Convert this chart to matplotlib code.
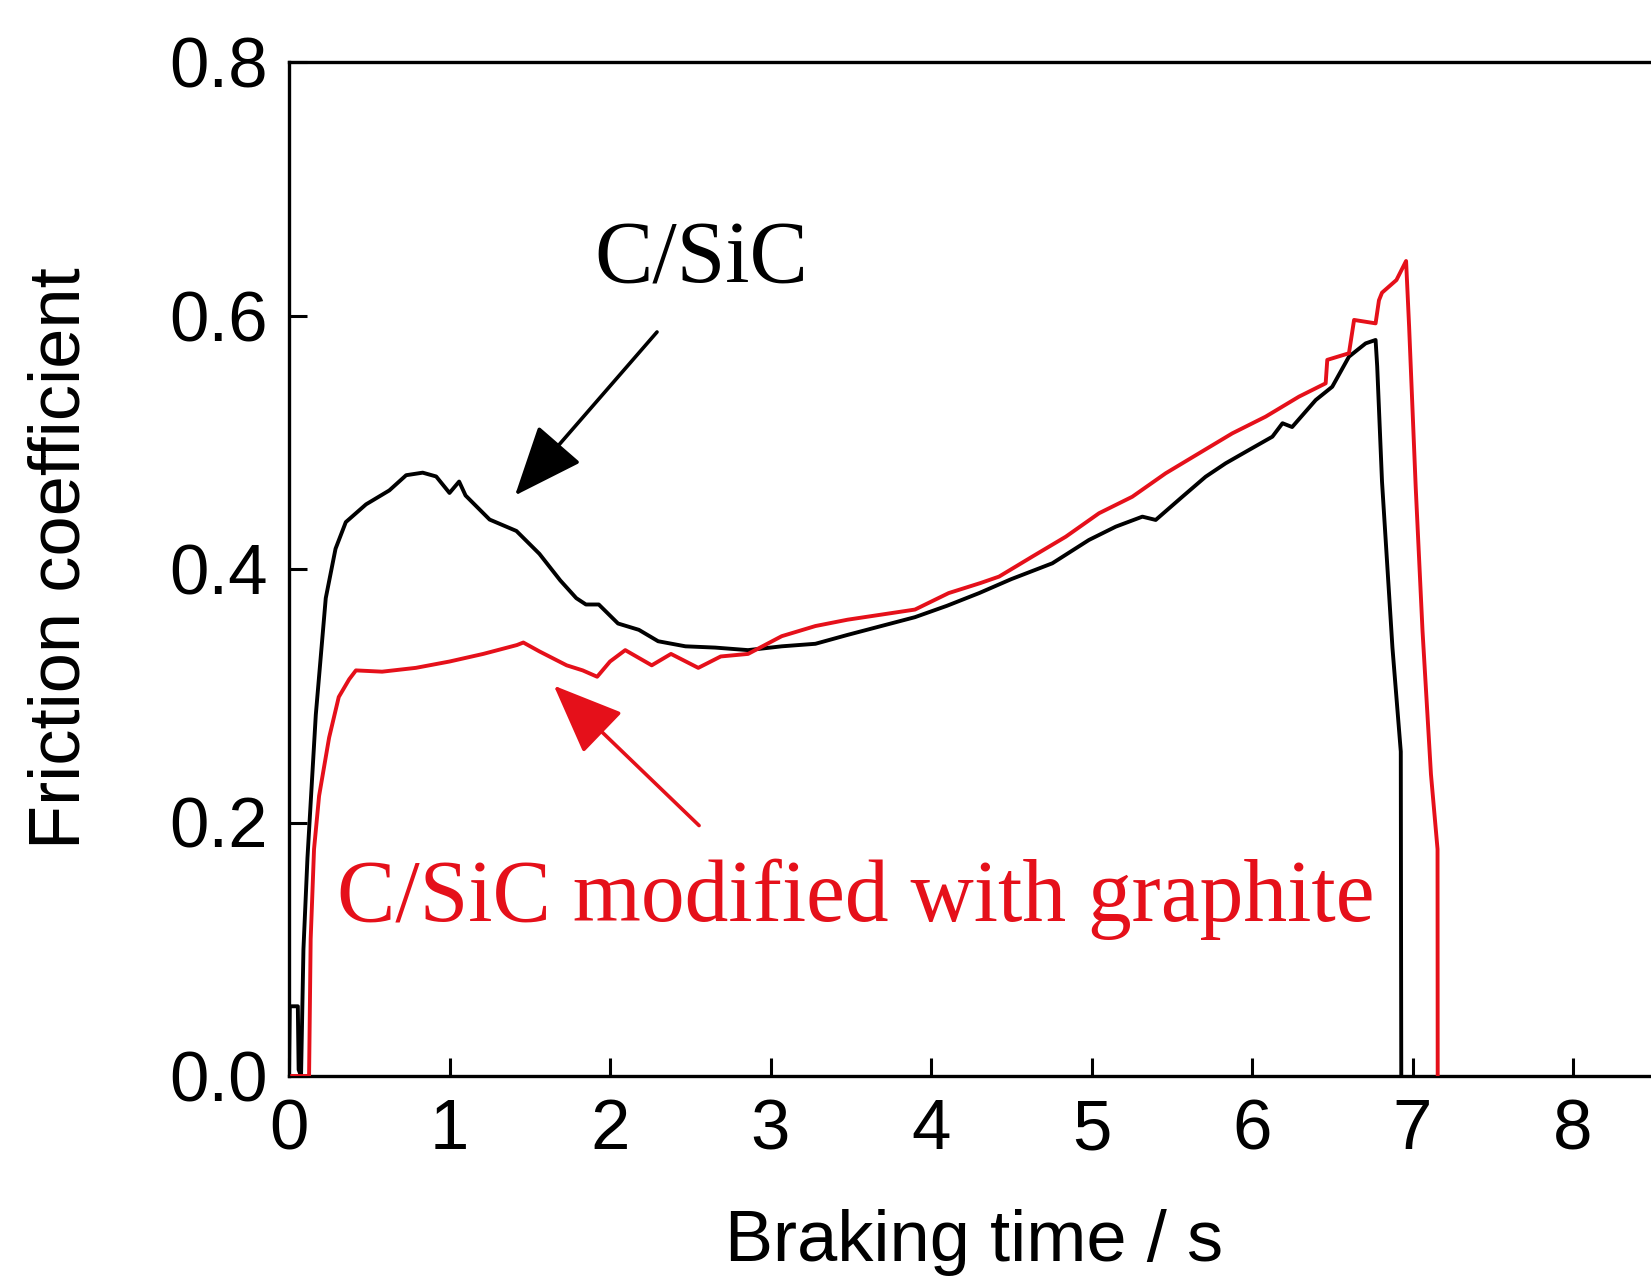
import matplotlib
matplotlib.use('Agg')
import matplotlib.pyplot as plt

plt.rcParams['font.family'] = ['Liberation Sans', 'DejaVu Sans']

# ---------------- data ----------------
csic_t = [0.0, 0.005, 0.055, 0.06, 0.075, 0.09, 0.115, 0.167, 0.229, 0.29, 0.354,
          0.48, 0.625, 0.73, 0.833, 0.917, 1.0, 1.06, 1.1, 1.25, 1.417, 1.56,
          1.69, 1.79, 1.85, 1.93, 2.05, 2.18, 2.30, 2.47, 2.655, 2.86, 3.07,
          3.28, 3.48, 3.69, 3.9, 4.1, 4.3, 4.5, 4.756, 4.984, 5.151, 5.317,
          5.40, 5.566, 5.711, 5.836, 5.981, 6.127, 6.19, 6.25, 6.397, 6.50,
          6.604, 6.708, 6.77, 6.78, 6.81, 6.875, 6.927, 6.93]
csic_mu = [0.0, 0.055, 0.055, 0.005, 0.0, 0.10, 0.172, 0.285, 0.377, 0.416, 0.437,
           0.451, 0.462, 0.474, 0.476, 0.473, 0.460, 0.469, 0.458, 0.439, 0.430, 0.412,
           0.391, 0.377, 0.372, 0.372, 0.357, 0.352, 0.343, 0.339, 0.338, 0.336, 0.339,
           0.341, 0.348, 0.355, 0.362, 0.371, 0.381, 0.392, 0.4045, 0.4229, 0.4334, 0.4413,
           0.4387, 0.457, 0.4728, 0.4834, 0.4939, 0.5044, 0.515, 0.512, 0.5333, 0.5438,
           0.5675, 0.578, 0.5807, 0.56, 0.469, 0.338, 0.256, 0.0]

graph_t = [0.02, 0.125, 0.135, 0.156, 0.1875, 0.25, 0.31, 0.375, 0.417, 0.58, 0.79,
           1.0, 1.21, 1.42, 1.46, 1.56, 1.73, 1.83, 1.92, 2.0, 2.095, 2.26, 2.38,
           2.55, 2.69, 2.86, 3.07, 3.28, 3.48, 3.69, 3.90, 4.11, 4.31, 4.424, 4.63,
           4.84, 5.047, 5.254, 5.462, 5.67, 5.877, 6.085, 6.293, 6.459, 6.469, 6.604,
           6.636, 6.77, 6.791, 6.81, 6.90, 6.96, 6.979, 7.02, 7.0625, 7.115, 7.156, 7.157]
graph_mu = [0.0, 0.0, 0.108, 0.179, 0.221, 0.267, 0.299, 0.313, 0.320, 0.319, 0.322,
            0.327, 0.333, 0.340, 0.342, 0.335, 0.324, 0.320, 0.315, 0.327, 0.336, 0.324, 0.333,
            0.322, 0.331, 0.333, 0.347, 0.355, 0.360, 0.364, 0.368, 0.381, 0.389, 0.394, 0.4097,
            0.4255, 0.444, 0.457, 0.4755, 0.4913, 0.507, 0.5202, 0.536, 0.5465, 0.565, 0.5702,
            0.5965, 0.5938, 0.612, 0.618, 0.628, 0.643, 0.591, 0.4645, 0.351, 0.238, 0.179, 0.0]

x_ticks = [0, 1, 2, 3, 4, 5, 6, 7, 8]
y_ticks = [0.0, 0.2, 0.4, 0.6, 0.8]
y_tick_labels = ['0.0', '0.2', '0.4', '0.6', '0.8']

label_x = 'Braking time / s'
label_y = 'Friction coefficient'
name_csic = 'C/SiC'
name_graph = 'C/SiC modified with graphite'

RED = '#e5101a'

# ---------------- figure ----------------
W, H, DPI = 1651, 1278, 100
fig = plt.figure(figsize=(W / DPI, H / DPI), dpi=DPI)
ax_left = 289 / W
ax_bottom = 1 - 1076 / H
ax_height = (1076 - 62) / H
ax_width = 9 * 160.5 / W
ax = fig.add_axes([ax_left, ax_bottom, ax_width, ax_height])

ax.plot(csic_t, csic_mu, color='black', lw=2.8, zorder=3)
ax.plot(graph_t, graph_mu, color=RED, lw=2.8, zorder=4)

ax.set_xlim(0, 9)
ax.set_ylim(0, 0.8)
ax.set_xticks(x_ticks)
ax.set_yticks(y_ticks)
ax.set_yticklabels(y_tick_labels)
ax.tick_params(direction='in', length=13, width=2.2, labelsize=51,
               top=False, right=False, colors='black')
ax.tick_params(axis='x', pad=16)
ax.tick_params(axis='y', pad=15)
for s in ax.spines.values():
    s.set_linewidth(2.4)

ax.set_xlabel(label_x, fontsize=52, va='baseline')
ax.xaxis.set_label_coords(974 / W, 1 - 1261 / H, transform=fig.transFigure)
ax.set_ylabel(label_y, fontsize=52, va='baseline')
ax.yaxis.set_label_coords(79 / W, 1 - 558 / H, transform=fig.transFigure)

# annotations
ax.annotate('', xy=(1.408, 0.458), xytext=(2.293, 0.587),
            arrowprops=dict(arrowstyle='-|>,head_length=1.1,head_width=0.45',
                            color='black', lw=2.6, mutation_scale=40,
                            shrinkA=0, shrinkB=0))
ax.annotate('', xy=(1.65, 0.308), xytext=(2.555, 0.1976),
            arrowprops=dict(arrowstyle='-|>,head_length=1.1,head_width=0.45',
                            color=RED, lw=2.6, mutation_scale=40,
                            shrinkA=0, shrinkB=0))

ax.text(2.567, 0.626, name_csic, family=['Liberation Serif', 'DejaVu Serif'],
        fontsize=63, ha='center', va='baseline', color='black')
ax.text(3.533, 0.122, name_graph, family=['Liberation Serif', 'DejaVu Serif'],
        fontsize=63, ha='center', va='baseline', color=RED)

fig.savefig('out.png', dpi=DPI)
